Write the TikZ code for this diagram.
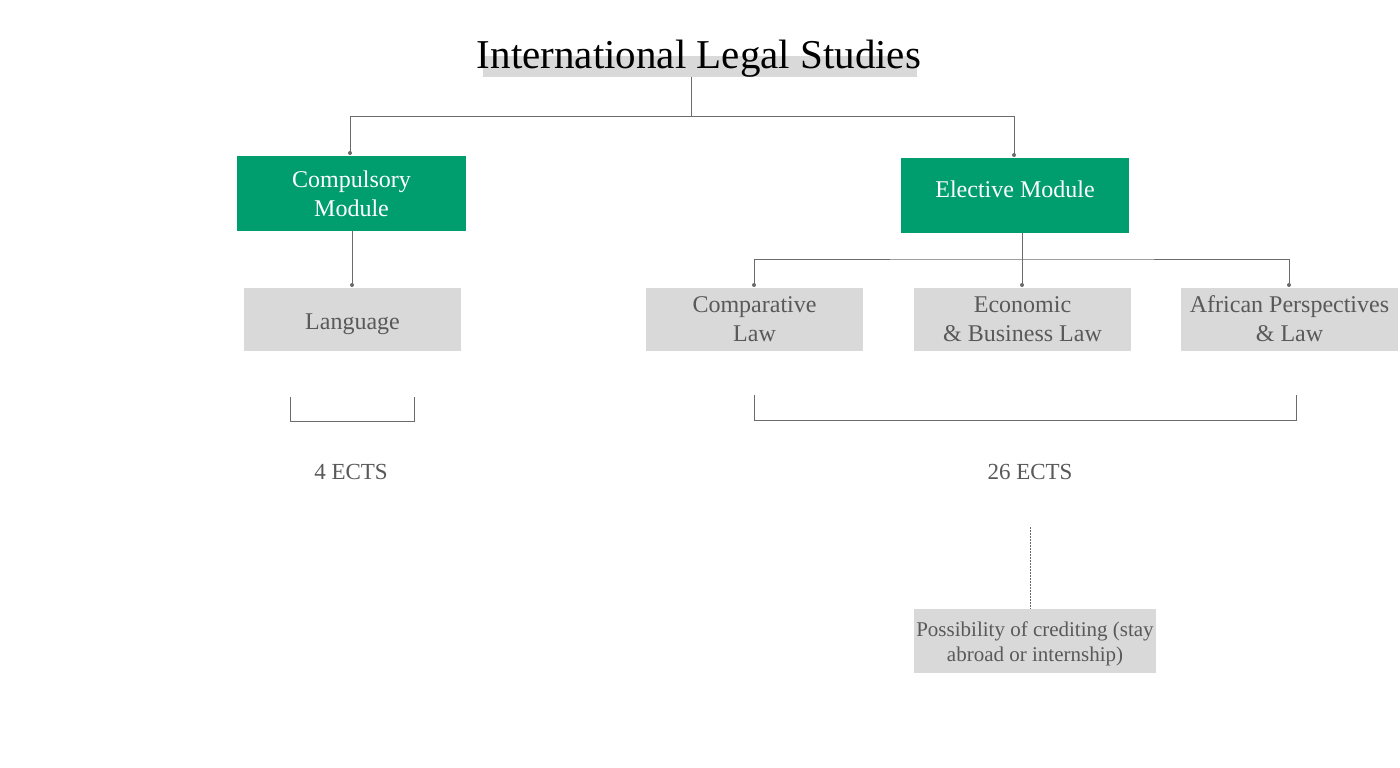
\documentclass[tikz,border=0pt]{standalone}
\usepackage{fontspec}
\setmainfont{Liberation Serif}
\usetikzlibrary{calc}
\definecolor{grn}{HTML}{009E6E}
\definecolor{boxgray}{HTML}{D9D9D9}
\definecolor{txtgray}{HTML}{595959}
\definecolor{linegray}{HTML}{6B6B6B}
\newcommand{\shiftlines}[2]{\raisebox{#1}[\height][\depth]{\begin{tabular}{@{}c@{}}#2\end{tabular}}}
\begin{document}
\begin{tikzpicture}[x=1pt,y=-1pt,
  greenbox/.style={rectangle,fill=grn,text=white,minimum width=229pt,minimum height=75pt,align=center,inner sep=0pt,font=\fontsize{24}{29}\selectfont},
  graybox/.style={rectangle,fill=boxgray,text=txtgray,minimum width=217pt,minimum height=63pt,align=center,inner sep=0pt,font=\fontsize{24}{29}\selectfont},
  conn/.style={draw=linegray,line width=0.9pt},
  enddot/.style={fill=linegray,draw=none},
  ects/.style={text=txtgray,font=\fontsize{23}{28}\selectfont,inner sep=0pt}
]
\useasboundingbox[fill=white] (0,0) rectangle (1400,768);
% title
\fill[boxgray] (483,56) rectangle (917,77);
\coordinate (tbarS) at (691,77);
\node[anchor=base,inner sep=0pt,font=\fontsize{41}{48}\selectfont] (title) at (699,69) {International Legal Studies};
% modules
\node[greenbox] (comp) at (351.5,193.5) {Compulsory\\Module};
\node[greenbox,minimum width=228pt] (elec) at (1015,195.5) {\shiftlines{4pt}{Elective Module}};
% courses
\node[graybox] (lang) at (352.5,319.5) {\shiftlines{-4pt}{Language}};
\node[graybox] (compar) at (754.5,319.5) {\shiftlines{-2pt}{Comparative\\Law}};
\node[graybox] (econ) at (1022.5,319.5) {\shiftlines{-2pt}{Economic\\\& Business Law}};
\node[graybox] (afr) at (1289.5,319.5) {\shiftlines{-2pt}{African Perspectives\\\& Law}};
\node[graybox,minimum width=242pt,minimum height=64pt,font=\fontsize{21}{25}\selectfont] (poss) at (1035,641) {\shiftlines{-3pt}{Possibility of crediting (stay\\abroad or internship)}};
% ECTS labels
\node[ects] (e4) at (351,472) {4 ECTS};
\node[ects] (e26) at (1030,472) {26 ECTS};
% title connectors
\coordinate (j1) at (691,116.5);
\coordinate (cA) at (350,153);
\coordinate (cB) at (1014,155);
\draw[conn] (tbarS) -- (j1);
\draw[conn] (j1) -| (cA);
\draw[conn] (j1) -| (cB);
\fill[enddot] (cA) circle (2pt);
\fill[enddot] (cB) circle (2pt);
% compulsory -> language
\coordinate (cL) at (352,285);
\draw[conn] (comp.south -| cL) -- (cL);
\fill[enddot] (cL) circle (2pt);
% elective -> courses
\coordinate (j2) at (1022,259);
\coordinate (c1) at (754,285);
\coordinate (c2) at (1022,285);
\coordinate (c3) at (1289,285);
\draw[conn] (elec.south -| j2) -- (c2);
\draw[conn] (c1) |- (j2) -| (c3);
\foreach \c in {c1,c2,c3} \fill[enddot] (\c) circle (2pt);
% brackets
\coordinate (b1a) at (290,397);
\coordinate (b1b) at (414,397);
\draw[conn] (b1a) -- ++(0,24) -| (b1b);
\coordinate (b2a) at (754,395);
\coordinate (b2b) at (1296,395);
\draw[conn] (b2a) -- ++(0,25) -| (b2b);
% dashed to possibility
\coordinate (dtop) at (1030,527);
\draw[conn,line width=0.7pt,dash pattern=on 2pt off 1pt] (dtop) -- (dtop |- poss.north);
\end{tikzpicture}
\end{document}
